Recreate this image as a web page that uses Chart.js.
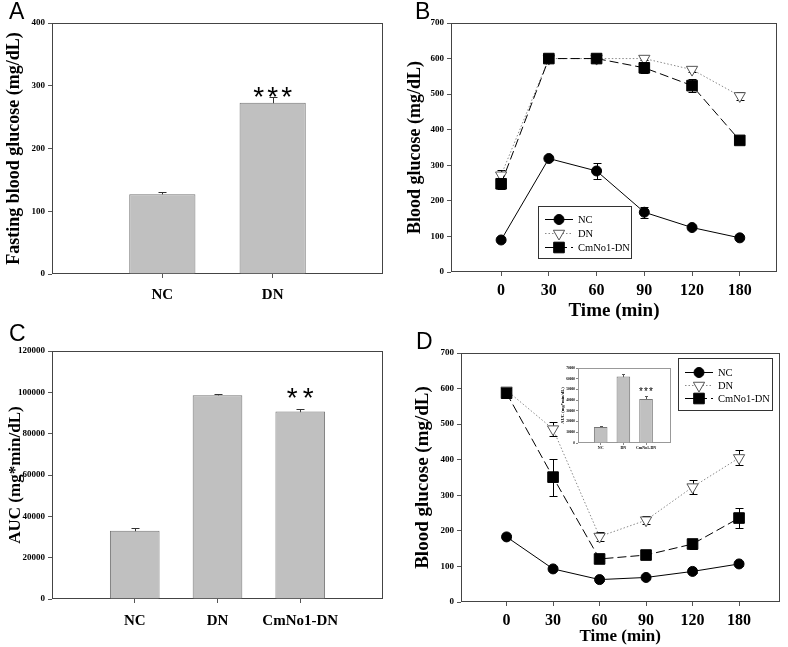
<!DOCTYPE html>
<html>
<head>
<meta charset="utf-8">
<title>Blood glucose figure</title>
<script src="https://cdn.jsdelivr.net/npm/chart.js@4.4.1/dist/chart.umd.min.js"></script>
<style>
  html, body { margin: 0; padding: 0; background: #fff; }
  #fig { position: relative; width: 788px; height: 647px; overflow: hidden; background: #fff; }
  #fig canvas { position: absolute; }
  .tag { position: absolute; font-family: "Liberation Sans", Arial, sans-serif; font-size: 23px; line-height: 1; color: #000; }
</style>
</head>
<body>
<div id="fig">
  <canvas id="chartA" width="394" height="320" style="left:0;top:0"></canvas>
  <canvas id="chartB" width="394" height="322" style="left:394px;top:0"></canvas>
  <canvas id="chartC" width="394" height="327" style="left:0;top:320px"></canvas>
  <canvas id="chartD" width="394" height="327" style="left:394px;top:320px"></canvas>
  <canvas id="chartInset" width="126" height="92" style="left:550px;top:362px"></canvas>
  <div class="tag" style="left:9px;top:0">A</div>
  <div class="tag" style="left:415px;top:0">B</div>
  <div class="tag" style="left:9px;top:322px">C</div>
  <div class="tag" style="left:416px;top:330px">D</div>
</div>
<script>
// =================== DATA ===================
const fastingGroups = ['NC', 'DN'];
const fastingMean = [127, 273];
const fastingSem = [3, 9];

const timePoints = ['0', '30', '60', '90', '120', '180'];
const seriesNames = ['NC', 'DN', 'CmNo1-DN'];

// B: glucose tolerance
const ogttNC = [90, 319, 284, 168, 125, 96];
const ogttNCSem = [3, 4, 23, 15, 4, 4];
const ogttDN = [272, 600, 600, 600, 569, 495];
const ogttDNSem = [16, 4, 4, 5, 8, 12];
const ogttCm = [248, 600, 600, 574, 524, 370];
const ogttCmSem = [16, 5, 5, 15, 18, 10];

// C: AUC
const aucGroups = ['NC', 'DN', 'CmNo1-DN'];
const aucMean = [33000, 98600, 90700];
const aucSem = [1400, 600, 1200];

// D: insulin tolerance
const ittNC = [183, 93, 63, 69, 86, 107];
const ittNCSem = [6, 4, 3, 3, 4, 5];
const ittDN = [595, 486, 184, 230, 323, 405];
const ittDNSem = [8, 20, 12, 12, 20, 21];
const ittCm = [587, 351, 121, 132, 163, 236];
const ittCmSem = [8, 52, 6, 6, 15, 27];

// D inset: AUC
const ittAucMean = [15000, 62000, 41000];
const ittAucSem = [500, 2200, 3000];

// =================== HELPERS ===================
const SERIF = '"Liberation Serif", "Times New Roman", serif';
const SANS = '"Liberation Sans", Arial, sans-serif';
const BAR_FILL = '#c0c0c0';
const BAR_EDGE = '#767676';

const boldSerif = (size) => ({ family: SERIF, weight: 'bold', size });

function yScaleCfg({ max, step, width, title, titleSize, titlePad, tickSize, tickLen = 4, color = '#555' }) {
  return {
    type: 'linear', min: 0, max,
    afterFit: (s) => { s.width = width; },
    ticks: { stepSize: step, font: boldSerif(tickSize), color: '#000', padding: 3, callback: (v) => String(v) },
    grid: { drawOnChartArea: false, tickLength: tickLen, color },
    border: { display: false },
    title: title
      ? { display: true, text: title, color: '#000', font: boldSerif(titleSize), padding: { top: titlePad, bottom: 0 } }
      : { display: false }
  };
}

function xScaleCfg({ labels, first, min, max, height, tickSize, tickPad, title, titleSize, tickLen = 4, color = '#555' }) {
  return {
    type: 'linear', min, max, offset: false,
    afterFit: (s) => { s.height = height; },
    afterBuildTicks: (s) => { s.ticks = labels.map((_, i) => ({ value: i + first })); },
    ticks: {
      autoSkip: false, maxRotation: 0, minRotation: 0,
      font: boldSerif(tickSize), color: '#000', padding: tickPad,
      callback: (v) => labels[v - first]
    },
    grid: { drawOnChartArea: false, tickLength: tickLen, color, offset: false },
    border: { display: false },
    title: title
      ? { display: true, text: title, color: '#000', font: boldSerif(titleSize), padding: { top: 0, bottom: 0 } }
      : { display: false }
  };
}

const toPoints = (arr, first) => arr.map((y, i) => ({ x: i + first, y }));

function drawMarker(ctx, style, x, y, r, fill, stroke) {
  ctx.beginPath();
  if (style === 'circle') {
    ctx.arc(x, y, r, 0, Math.PI * 2);
  } else if (style === 'triangle') {
    // pointing down
    ctx.moveTo(x, y + r);
    ctx.lineTo(x - r * 0.866, y - r / 2);
    ctx.lineTo(x + r * 0.866, y - r / 2);
    ctx.closePath();
  } else {
    const h = r * Math.SQRT1_2;
    ctx.rect(x - h, y - h, h * 2, h * 2);
  }
  ctx.fillStyle = fill;
  ctx.fill();
  ctx.strokeStyle = stroke;
  ctx.lineWidth = 1;
  ctx.stroke();
}

// =================== PLUGINS ===================
const framePlugin = {
  id: 'frame',
  beforeDatasetsDraw(chart, args, opts) {
    const { ctx, chartArea: a } = chart;
    ctx.save();
    ctx.strokeStyle = opts.color || '#444';
    ctx.lineWidth = 1;
    const l = Math.round(a.left) + 0.5, t = Math.round(a.top) + 0.5;
    const r = Math.round(a.right) - 0.5, b = Math.round(a.bottom) - 0.5;
    ctx.strokeRect(l, t, r - l, b - t);
    ctx.restore();
  }
};

const errorBarPlugin = {
  id: 'errorBars',
  beforeDatasetsDraw(chart, args, opts) {
    const ctx = chart.ctx;
    const yScale = chart.scales.y;
    const cap = opts.cap || 4;
    chart.data.datasets.forEach((ds, i) => {
      if (!ds.errorBars) return;
      const meta = chart.getDatasetMeta(i);
      ctx.save();
      ctx.strokeStyle = opts.color || '#000';
      ctx.lineWidth = 1;
      meta.data.forEach((el, j) => {
        const err = ds.errorBars[j];
        if (!err) return;
        const v = ds.data[j].y;
        const x = Math.round(el.x) + 0.5;
        const yHi = Math.round(yScale.getPixelForValue(v + err)) + 0.5;
        const yLo = Math.round(yScale.getPixelForValue(opts.upOnly ? v : v - err)) + 0.5;
        ctx.beginPath();
        ctx.moveTo(x, yLo); ctx.lineTo(x, yHi);
        ctx.moveTo(x - cap, yHi); ctx.lineTo(x + cap, yHi);
        if (!opts.upOnly) { ctx.moveTo(x - cap, yLo); ctx.lineTo(x + cap, yLo); }
        ctx.stroke();
      });
      ctx.restore();
    });
  }
};

const starsPlugin = {
  id: 'stars',
  afterDatasetsDraw(chart, args, opts) {
    if (!opts || !opts.count) return;
    const ctx = chart.ctx;
    const ds = chart.data.datasets[0];
    const el = chart.getDatasetMeta(0).data[opts.index];
    const top = ds.data[opts.index].y + (ds.errorBars ? ds.errorBars[opts.index] : 0);
    const cy = chart.scales.y.getPixelForValue(top) - opts.lift;
    ctx.save();
    ctx.fillStyle = '#000';
    ctx.font = `${opts.size}px ${SANS}`;
    ctx.textAlign = 'center';
    ctx.textBaseline = 'alphabetic';
    for (let k = 0; k < opts.count; k++) {
      const x = el.x + (k - (opts.count - 1) / 2) * opts.spacing;
      ctx.fillText('*', x, cy + opts.size * 0.6);
    }
    ctx.restore();
  }
};

const boxLegendPlugin = {
  id: 'boxLegend',
  afterDatasetsDraw(chart, args, opts) {
    if (!opts || !opts.width) return;
    const ctx = chart.ctx;
    const { x, y, width, height, first, gap } = opts;
    ctx.save();
    ctx.fillStyle = '#fff';
    ctx.fillRect(x, y, width, height);
    ctx.strokeStyle = '#333';
    ctx.lineWidth = 1;
    ctx.strokeRect(x + 0.5, y + 0.5, width, height);
    chart.data.datasets.forEach((ds, i) => {
      const ry = Math.round(y + first + i * gap) + 0.5;
      ctx.save();
      ctx.strokeStyle = ds.borderColor;
      ctx.lineWidth = 1;
      ctx.setLineDash(ds.borderDash || []);
      ctx.beginPath();
      ctx.moveTo(x + 7, ry); ctx.lineTo(x + 35, ry);
      ctx.stroke();
      ctx.restore();
      drawMarker(ctx, ds.pointStyle, x + 21, ry, ds.pointRadius, ds.pointBackgroundColor, ds.pointBorderColor);
      ctx.fillStyle = '#000';
      ctx.font = `10.5px ${SERIF}`;
      ctx.textAlign = 'left';
      ctx.textBaseline = 'middle';
      ctx.fillText(ds.label, x + 40, ry + 0.5);
    });
    ctx.restore();
  }
};

const PLUGINS = [framePlugin, errorBarPlugin, starsPlugin, boxLegendPlugin];

function baseOptions(padTop, padRight) {
  return {
    responsive: false,
    devicePixelRatio: 1,
    animation: false,
    layout: { padding: { top: padTop, right: padRight, left: 0, bottom: 0 } },
    plugins: { legend: { display: false }, tooltip: { enabled: false } }
  };
}

function lineDatasets(nc, ncSem, dn, dnSem, cm, cmSem) {
  return [
    {
      label: seriesNames[0], data: toPoints(nc, 0), errorBars: ncSem,
      borderColor: '#000', borderWidth: 1, tension: 0,
      pointStyle: 'circle', pointRadius: 5, pointBackgroundColor: '#000', pointBorderColor: '#000',
      order: 2
    },
    {
      label: seriesNames[1], data: toPoints(dn, 0), errorBars: dnSem,
      borderColor: '#8a8a8a', borderWidth: 1, borderDash: [1.5, 2], tension: 0,
      pointStyle: 'triangle', pointRotation: 180, pointRadius: 6.5,
      pointBackgroundColor: '#fff', pointBorderColor: '#555',
      order: 1
    },
    {
      label: seriesNames[2], data: toPoints(cm, 0), errorBars: cmSem,
      borderColor: '#000', borderWidth: 1, borderDash: [9, 4], tension: 0,
      pointStyle: 'rect', pointRadius: 7.5, pointBackgroundColor: '#000', pointBorderColor: '#000',
      order: 0
    }
  ];
}

function barDataset(means, sems) {
  return {
    data: toPoints(means, 1), errorBars: sems,
    backgroundColor: BAR_FILL, borderColor: BAR_EDGE, borderWidth: 1,
    barPercentage: 0.6, categoryPercentage: 1
  };
}

// =================== PANEL A ===================
const optsA = baseOptions(23, 11);
optsA.scales = {
  x: xScaleCfg({ labels: fastingGroups, first: 1, min: 0, max: 3, height: 46, tickSize: 15, tickPad: 8 }),
  y: yScaleCfg({ max: 400, step: 100, width: 52, title: 'Fasting blood glucose (mg/dL)', titleSize: 18, titlePad: 4, tickSize: 9 })
};
Object.assign(optsA.plugins, {
  errorBars: { upOnly: true, cap: 4, color: '#333' },
  stars: { index: 1, count: 3, spacing: 14, size: 28, lift: 8 }
});
new Chart(document.getElementById('chartA'), {
  type: 'bar',
  data: { datasets: [barDataset(fastingMean, fastingSem)] },
  options: optsA,
  plugins: PLUGINS
});

// =================== PANEL B ===================
const optsB = baseOptions(23, 11);
optsB.scales = {
  x: xScaleCfg({ labels: timePoints, first: 0, min: -1.05, max: 5.78, height: 50, tickSize: 16, tickPad: 5, title: 'Time (min)', titleSize: 19 }),
  y: yScaleCfg({ max: 700, step: 100, width: 57, title: 'Blood glucose (mg/dL)', titleSize: 18, titlePad: 11, tickSize: 9 })
};
Object.assign(optsB.plugins, {
  errorBars: { cap: 4, color: '#000' },
  boxLegend: { x: 144, y: 206, width: 93, height: 52, first: 13, gap: 14 }
});
new Chart(document.getElementById('chartB'), {
  type: 'line',
  data: { datasets: lineDatasets(ogttNC, ogttNCSem, ogttDN, ogttDNSem, ogttCm, ogttCmSem) },
  options: optsB,
  plugins: PLUGINS
});

// =================== PANEL C ===================
const optsC = baseOptions(31, 11);
optsC.scales = {
  x: xScaleCfg({ labels: aucGroups, first: 1, min: 0, max: 4, height: 48, tickSize: 15, tickPad: 9 }),
  y: yScaleCfg({ max: 120000, step: 20000, width: 52, title: 'AUC (mg*min/dL)', titleSize: 17, titlePad: 5, tickSize: 9 })
};
Object.assign(optsC.plugins, {
  errorBars: { upOnly: true, cap: 4, color: '#333' },
  stars: { index: 2, count: 2, spacing: 16, size: 28, lift: 19 }
});
new Chart(document.getElementById('chartC'), {
  type: 'bar',
  data: { datasets: [barDataset(aucMean, aucSem)] },
  options: optsC,
  plugins: PLUGINS
});

// =================== PANEL D ===================
const optsD = baseOptions(33, 6);
optsD.scales = {
  x: xScaleCfg({ labels: timePoints, first: 0, min: -0.98, max: 5.87, height: 45, tickSize: 16, tickPad: 5, title: 'Time (min)', titleSize: 17 }),
  y: yScaleCfg({ max: 700, step: 100, width: 67, title: 'Blood glucose (mg/dL)', titleSize: 19, titlePad: 18, tickSize: 9 })
};
Object.assign(optsD.plugins, {
  errorBars: { cap: 4, color: '#000' },
  boxLegend: { x: 284, y: 38, width: 94, height: 52, first: 14, gap: 13 }
});
new Chart(document.getElementById('chartD'), {
  type: 'line',
  data: { datasets: lineDatasets(ittNC, ittNCSem, ittDN, ittDNSem, ittCm, ittCmSem) },
  options: optsD,
  plugins: PLUGINS
});

// =================== INSET (D) ===================
const optsI = baseOptions(6, 5);
optsI.scales = {
  x: xScaleCfg({ labels: aucGroups, first: 1, min: 0, max: 4.1, height: 11, tickSize: 4, tickPad: 1, tickLen: 2, color: '#888' }),
  y: yScaleCfg({ max: 70000, step: 10000, width: 28, title: 'AUC (mg*min/dL)', titleSize: 4.5, titlePad: 10, tickSize: 3.5, tickLen: 2, color: '#888' })
};
optsI.scales.y.ticks.padding = 1;
Object.assign(optsI.plugins, {
  frame: { color: '#999' },
  errorBars: { upOnly: true, cap: 1.5, color: '#555' },
  stars: { index: 2, count: 3, spacing: 5, size: 10, lift: 7 }
});
new Chart(document.getElementById('chartInset'), {
  type: 'bar',
  data: { datasets: [barDataset(ittAucMean, ittAucSem)] },
  options: optsI,
  plugins: PLUGINS
});
</script>
</body>
</html>
